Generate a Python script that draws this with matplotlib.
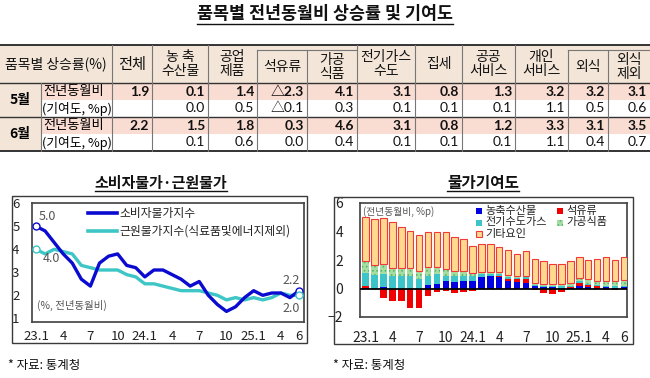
import matplotlib
matplotlib.use('Agg')
import matplotlib.pyplot as plt
from matplotlib.patches import Rectangle
import numpy as np

plt.rcParams['font.family'] = ['Noto Sans CJK KR', 'DejaVu Sans']
plt.rcParams['hatch.linewidth'] = 0.6

# ---------------- data ----------------
col_headers = ['전체', '농 축\n수산물', '공업\n제품', '석유류', '가공\n식품', '전기가스\n수도',
               '집세', '공공\n서비스', '개인\n서비스', '외식', '외식\n제외']
may_yoy = [1.9, 0.1, 1.4, -2.3, 4.1, 3.1, 0.8, 1.3, 3.2, 3.2, 3.1]
may_contrib = [None, 0.0, 0.5, -0.1, 0.3, 0.1, 0.1, 0.1, 1.1, 0.5, 0.6]
jun_yoy = [2.2, 1.5, 1.8, 0.3, 4.6, 3.1, 0.8, 1.2, 3.3, 3.1, 3.5]
jun_contrib = [None, 0.1, 0.6, 0.0, 0.4, 0.1, 0.1, 0.1, 1.1, 0.4, 0.7]

months = ['23.1', '2', '3', '4', '5', '6', '7', '8', '9', '10', '11', '12',
          '24.1', '2', '3', '4', '5', '6', '7', '8', '9', '10', '11', '12',
          '25.1', '2', '3', '4', '5', '6']
tick_idx = [0, 3, 6, 9, 12, 15, 18, 21, 24, 27, 29]
tick_lbl = ['23.1', '4', '7', '10', '24.1', '4', '7', '10', '25.1', '4', '6']

cpi = [5.0, 4.8, 4.3, 3.8, 3.4, 2.7, 2.4, 3.4, 3.7, 3.8, 3.3, 3.2,
       2.8, 3.1, 3.1, 2.9, 2.7, 2.4, 2.6, 2.0, 1.6, 1.3, 1.5, 1.9,
       2.2, 2.0, 2.1, 2.1, 1.9, 2.2]
core = [4.0, 3.8, 4.0, 3.9, 3.8, 3.3, 3.2, 3.1, 3.1, 3.1, 2.9, 2.8,
        2.5, 2.5, 2.4, 2.3, 2.2, 2.2, 2.2, 2.1, 2.0, 1.8, 1.9, 1.8,
        1.9, 1.8, 1.9, 2.1, 2.0, 2.0]

agri = [0.05, 0.0, 0.1, 0.0, 0.0, 0.0, 0.0, 0.25, 0.35, 0.55, 0.45, 0.55,
        0.55, 0.8, 0.85, 0.8, 0.55, 0.45, 0.4, 0.15, 0.1, 0.1, 0.05, 0.05,
        0.15, 0.1, 0.05, 0.1, 0.05, 0.1]
petro = [0.15, -0.05, -0.65, -0.85, -0.9, -1.35, -1.35, -0.55, -0.25, -0.2, -0.3, -0.25,
         -0.2, -0.05, 0.0, 0.05, 0.1, 0.2, 0.3, -0.1, -0.3, -0.4, -0.25, 0.05,
         0.25, 0.15, 0.1, -0.1, -0.1, 0.0]
elec = [0.9, 0.95, 0.9, 0.85, 0.85, 0.85, 0.65, 0.65, 0.65, 0.35, 0.4, 0.35,
        0.3, 0.2, 0.15, 0.15, 0.15, 0.1, 0.1, 0.1, 0.1, 0.1, 0.1, 0.1,
        0.1, 0.1, 0.1, 0.1, 0.1, 0.1]
proc = [0.8, 0.7, 0.75, 0.6, 0.6, 0.6, 0.55, 0.6, 0.5, 0.45, 0.4, 0.35,
        0.25, 0.15, 0.15, 0.15, 0.15, 0.1, 0.1, 0.15, 0.15, 0.15, 0.15, 0.2,
        0.25, 0.3, 0.3, 0.35, 0.35, 0.4]
other = [round(c - a - p - e - f, 2) for c, a, p, e, f in zip(cpi, agri, petro, elec, proc)]

# ---------------- figure ----------------
W, H = 650, 378
fig = plt.figure(figsize=(6.5, 3.78), dpi=100)


def px_axes(l, t, r, b, **kw):
    return fig.add_axes([l / W, 1 - b / H, (r - l) / W, (b - t) / H], **kw)


ov = px_axes(0, 0, W, H, zorder=10)
ov.set_xlim(0, W)
ov.set_ylim(H, 0)
ov.axis('off')
ov.patch.set_alpha(0)

DARK = '#333333'
HEAD_BG = '#F3E6D8'
PINK = '#F9DCD2'

# ---------------- table ----------------
t_title = ov.text(325, 14, '품목별 전년동월비 상승률 및 기여도', ha='center', va='center',
                  fontsize=12.5, fontweight='bold', color='#111111')

edges = [112, 152, 208, 257, 307, 357, 415, 462, 515, 568, 608, 650]
T0, T1, HB = 45, 50, 83
rows = [83, 100, 117, 134, 151]

ov.add_patch(Rectangle((0, T0), W, HB - T0, facecolor=HEAD_BG, edgecolor='none', zorder=1))
ov.add_patch(Rectangle((0, HB), 41, rows[4] - HB, facecolor=HEAD_BG, edgecolor='none', zorder=1))
for r0 in (rows[0], rows[2]):
    ov.add_patch(Rectangle((41, r0), W - 41, 17, facecolor=PINK, edgecolor='none', zorder=1))

ov.plot([0, W], [T0, T0], color=DARK, lw=1.4, zorder=3)
ov.plot([0, W], [HB, HB], color=DARK, lw=1.0, zorder=3)
ov.plot([0, W], [rows[2], rows[2]], color=DARK, lw=1.0, zorder=3)
ov.plot([0, W], [rows[4], rows[4]], color=DARK, lw=1.4, zorder=3)
ov.plot([257, 357], [T1, T1], color='#777777', lw=0.8, zorder=3)
ov.plot([568, 650], [T1, T1], color='#777777', lw=0.8, zorder=3)
sub_edges = {257, 307, 568, 608}
for xe in edges[:-1]:
    top = T1 if xe in sub_edges else T0
    ov.plot([xe, xe], [top, rows[4]], color='#777777', lw=0.8, zorder=3)
ov.plot([41, 41], [HB, rows[4]], color='#777777', lw=0.8, zorder=3)

ov.text(56, 64, '품목별 상승률(%)', ha='center', va='center', fontsize=10, color='#111111', zorder=4)
for i, h in enumerate(col_headers):
    cx = (edges[i] + edges[i + 1]) / 2
    cy = 67 if i in (3, 4, 9, 10) else 64
    fs = 11 if h == '전체' else 10
    ov.text(cx, cy, h, ha='center', va='center', fontsize=fs, color='#111111',
            linespacing=1.0, zorder=4)

ov.text(20, 100, '5월', ha='center', va='center', fontsize=10, fontweight='bold', zorder=4)
ov.text(20, 134, '6월', ha='center', va='center', fontsize=10, fontweight='bold', zorder=4)
for r in (0, 2):
    ov.text(43, rows[r] + 8.5, '전년동월비', ha='left', va='center', fontsize=9.5, zorder=4)
    ov.text(42, rows[r + 1] + 8.5, '(기여도, %p)', ha='left', va='center', fontsize=9.2, zorder=4)


def fmt(v):
    if v is None:
        return ''
    return ('△' if v < 0 else '') + f'{abs(v):.1f}'


VF = ['Lato', 'Noto Sans CJK KR', 'DejaVu Sans']
for vals, r, bold in ((may_yoy, 0, True), (may_contrib, 1, False),
                      (jun_yoy, 2, True), (jun_contrib, 3, False)):
    for i, v in enumerate(vals):
        ov.text(edges[i + 1] - 3, rows[r] + 8.5, fmt(v), ha='right', va='center',
                fontsize=10, family=VF, fontweight='bold' if bold else 'normal',
                color='#111111', zorder=4)

# ---------------- left chart: CPI & core ----------------
l_title = ov.text(161, 183, '소비자물가·근원물가', ha='center', va='center',
                  fontsize=10.8, fontweight='bold', color='#111111')
ov.add_patch(Rectangle((12, 196), 295, 147, facecolor='none', edgecolor='#3a3a3a', lw=1.0))

PX = 23.0
ax1_top, ax1_bot = 203.3, 321.5
ax1 = px_axes(32, ax1_top, 304, ax1_bot)
x = np.arange(len(months))
ax1.plot(x, core, color='#3EC6C6', lw=2.4, zorder=3)
ax1.plot(x, cpi, color='#0A0AD0', lw=2.4, zorder=4)
for series, col in ((cpi, '#0A0AD0'), (core, '#3EC6C6')):
    ax1.plot([x[0], x[-1]], [series[0], series[-1]], ls='none', marker='o', ms=5,
             mfc='white', mec=col, mew=1.0, zorder=5)
ax1.set_xlim(-0.44, 29.55)
ax1.set_ylim(6 - (ax1_bot - ax1_top) / PX, 6)
ax1.set_yticks([1, 2, 3, 4, 5, 6])
ax1.set_xticks(tick_idx)
ax1.set_xticklabels(tick_lbl)
ax1.tick_params(length=0, labelsize=9.5, colors='#222222')
ax1.tick_params(axis='y', pad=9)
ax1.tick_params(axis='x', pad=6)
for s in ax1.spines.values():
    s.set_color('#404040')
    s.set_linewidth(1.2)

ov.plot([88, 117], [213, 213], color='#0A0AD0', lw=2.6)
ov.plot([88, 117], [231, 231], color='#3EC6C6', lw=2.6)
ov.text(119, 213, '소비자물가지수', ha='left', va='center', fontsize=8.5, color='#222222')
ov.text(119, 231, '근원물가지수(식료품및에너지제외)', ha='left', va='center', fontsize=8.5, color='#222222')
ov.text(47, 217, '5.0', ha='center', va='center', fontsize=9, color='#555555')
ov.text(51, 258, '4.0', ha='center', va='center', fontsize=9, color='#555555')
ov.text(291, 280, '2.2', ha='center', va='center', fontsize=9, color='#555555')
ov.text(291, 308, '2.0', ha='center', va='center', fontsize=9, color='#555555')
ov.text(37, 305, '(%, 전년동월비)', ha='left', va='center', fontsize=7.5, color='#555555')
ov.text(8, 365, '* 자료: 통계청', ha='left', va='center', fontsize=9, color='#111111')

# ---------------- right chart: contributions ----------------
r_title = ov.text(483, 183, '물가기여도', ha='center', va='center',
                  fontsize=11.3, fontweight='bold', color='#111111')
ov.add_patch(Rectangle((334, 197), 299, 147, facecolor='none', edgecolor='#3a3a3a', lw=1.0))

ax2 = px_axes(360, 203, 627, 317)
styles = [
    (agri, dict(color='#0000E0')),
    (petro, dict(color='#F00000')),
    (elec, dict(color='#3CC4C8')),
    (proc, dict(facecolor='#A6DDA0', edgecolor='#4DB36A', hatch='....', lw=0)),
    (other, dict(facecolor='#FFD98E', edgecolor='#F03A3A', lw=0.8)),
]
pos_base = np.zeros(len(months))
neg_base = np.zeros(len(months))
for vals, st in styles:
    v = np.array(vals, dtype=float)
    bottom = np.where(v >= 0, pos_base, neg_base)
    ax2.bar(x, v, bottom=bottom, width=0.72, zorder=3, **st)
    pos_base += np.where(v >= 0, v, 0)
    neg_base += np.where(v < 0, v, 0)
ax2.axhline(0, color='black', lw=1.3, zorder=4)
ax2.set_xlim(-0.64, 29.36)
ax2.set_ylim(-2, 6)
ax2.set_yticks([-2, 0, 2, 4, 6])
ax2.set_xticks(tick_idx)
ax2.set_xticklabels(tick_lbl)
ax2.tick_params(length=0, labelsize=10, colors='#222222')
ax2.tick_params(axis='y', pad=12)
ax2.tick_params(axis='x', pad=10)
for s in ax2.spines.values():
    s.set_color('#404040')
    s.set_linewidth(1.2)

ov.text(363, 212, '(전년동월비, %p)', ha='left', va='center', fontsize=7, color='#555555')
leg = [
    (476, 211, '농축수산물', dict(facecolor='#0000E0', edgecolor='none')),
    (557, 211, '석유류', dict(facecolor='#F00000', edgecolor='none')),
    (476, 222.5, '전기수도가스', dict(facecolor='#3CC4C8', edgecolor='none')),
    (557, 222.5, '가공식품', dict(facecolor='#A6DDA0', edgecolor='#4DB36A', hatch='....', lw=0)),
    (476, 234, '기타요인', dict(facecolor='#FFD98E', edgecolor='#F03A3A', lw=0.8)),
]
for lx, ly, lab, st in leg:
    ov.add_patch(Rectangle((lx, ly - 3), 6, 6, **st))
    ov.text(lx + 9, ly, lab, ha='left', va='center', fontsize=8, color='#222222')
ov.text(333, 365, '* 자료: 통계청', ha='left', va='center', fontsize=9, color='#111111')

fig.canvas.draw()
inv = ov.transData.inverted()
for t, uy in ((t_title, 23.5), (l_title, 190.5), (r_title, 190.5)):
    bb = t.get_window_extent()
    (x0, _), (x1, _) = inv.transform([[bb.x0, bb.y0], [bb.x1, bb.y1]])
    ov.plot([x0, x1], [uy, uy], color='#111111', lw=1.0)

fig.savefig('out.png', dpi=100)
